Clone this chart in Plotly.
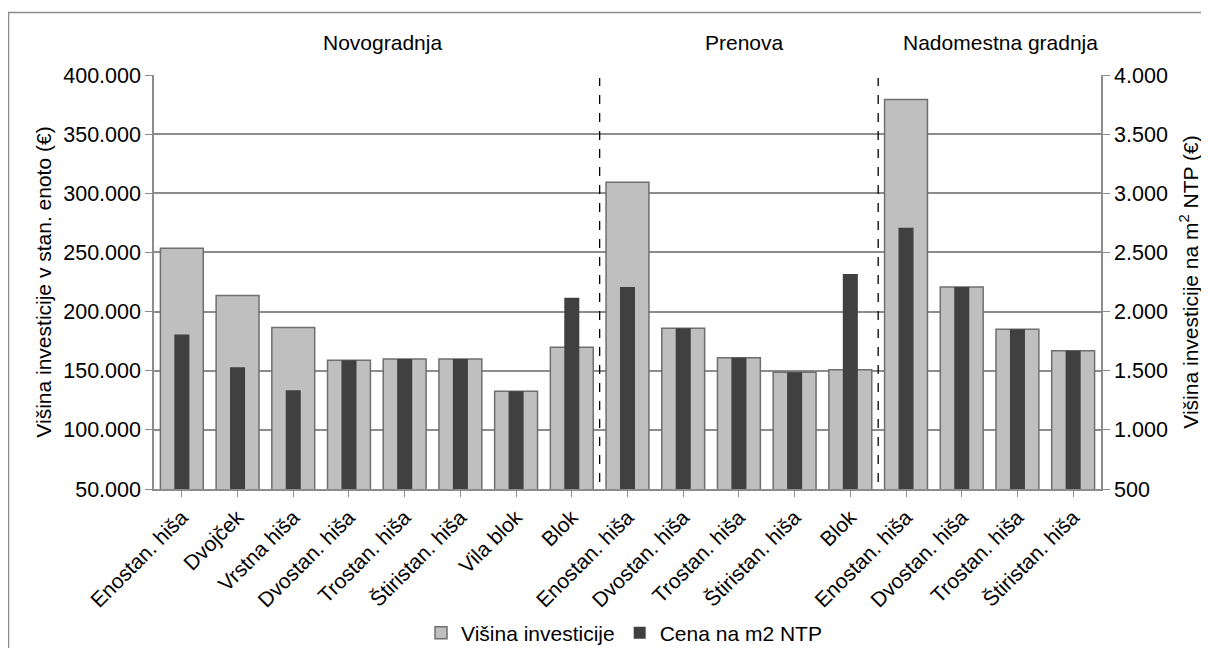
import plotly.graph_objects as go

categories = ["Enostan. hiša", "Dvojček", "Vrstna hiša", "Dvostan. hiša", "Trostan. hiša",
              "Štiristan. hiša", "Vila blok", "Blok",
              "Enostan. hiša", "Dvostan. hiša", "Trostan. hiša", "Štiristan. hiša", "Blok",
              "Enostan. hiša", "Dvostan. hiša", "Trostan. hiša", "Štiristan. hiša"]
investicija = [253600, 213500, 186500, 158800, 160000, 160000, 132600, 169800,
               309300, 185900, 161000, 148600, 150800,
               379300, 220800, 185000, 166900]
cena_m2 = [1807, 1529, 1334, 1588, 1600, 1600, 1326, 2116,
           2208, 1859, 1610, 1486, 2318,
           2709, 2208, 1850, 1669]
groups = ["Novogradnja", "Prenova", "Nadomestna gradnja"]
group_label_pos = [3.6, 10.1, 14.7]
separators_at = [7.5, 12.5]

# page body has an 8px margin; targets below are in screenshot pixels
OFF = 8
W, H = 1209, 648
PL, PR, PT, PB = 154, 1101, 75, 489          # plot box in screenshot pixels
L = PL - OFF
R = W - (PR - OFF)
T = PT - OFF
B = H - (PB - OFF)
pw, ph = PR - PL, PB - PT

def px_x(p):
    return (p - PL) / pw

def px_y(p):
    return (PB - p) / ph

FONT = "Liberation Sans, Arial, sans-serif"
FS = 21
TFS = 21.5
xs = list(range(len(categories)))

fig = go.Figure()
fig.add_trace(go.Bar(
    x=xs, y=investicija, name="Višina investicije", yaxis="y",
    width=0.77, marker=dict(color="#bfbfbf", line=dict(color="#6f6f6f", width=1.5)),
))
fig.add_trace(go.Bar(
    x=xs, y=cena_m2, name="Cena na m2 NTP", yaxis="y2",
    width=0.27, marker=dict(color="#404040", line=dict(color="#404040", width=0)),
))

shapes = [dict(type="rect", xref="paper", yref="paper",
               x0=px_x(8.5), x1=px_x(1240), y0=px_y(700), y1=px_y(12.5),
               line=dict(color="#8c8c8c", width=1.5), layer="below")]
for s in separators_at:
    shapes.append(dict(type="line", xref="x", yref="paper", x0=s, x1=s,
                       y0=px_y(482), y1=px_y(78),
                       line=dict(color="#000000", width=1.3, dash="dash")))

annotations = [dict(text=g, x=xp, xref="x", y=px_y(42), yref="paper",
                    xanchor="center", yanchor="middle",
                    showarrow=False, font=dict(size=FS, color="#000"))
               for g, xp in zip(groups, group_label_pos)]

fig.update_layout(
    width=W, height=H,
    margin=dict(l=L, r=R, t=T, b=B, autoexpand=False),
    paper_bgcolor="white", plot_bgcolor="white",
    font=dict(family=FONT, size=FS, color="#000"),
    separators=",.",
    barmode="overlay",
    showlegend=True,
    legend=dict(orientation="h", x=px_x(624), y=px_y(633), xanchor="center", yanchor="middle",
                font=dict(size=FS), itemwidth=30, traceorder="normal", tracegroupgap=0),
    xaxis=dict(tickmode="array", tickvals=xs, ticktext=categories, tickangle=-45,
               range=[-0.5, len(categories) - 0.5], showline=True, linecolor="#8c8c8c", linewidth=1.5,
               ticks="outside", tickson="boundaries", ticklen=6, tickcolor="#8c8c8c",
               showgrid=False, tickfont=dict(size=FS), automargin=False),
    yaxis=dict(range=[50000, 400000], dtick=50000, tickformat=",d", showgrid=True,
               gridcolor="#8c8c8c", gridwidth=1.5, showline=True, linecolor="#8c8c8c", linewidth=1.5,
               ticks="outside", ticklen=7, tickcolor="#8c8c8c", zeroline=False, automargin=False,
               title=dict(text="Višina investicije v stan. enoto (€)", font=dict(size=FS), standoff=6),
               tickfont=dict(size=TFS)),
    yaxis2=dict(range=[500, 4000], dtick=500, tickformat=",d", overlaying="y", side="right",
                showgrid=False, showline=True, linecolor="#8c8c8c", linewidth=1.5,
                ticks="outside", ticklen=7, tickcolor="#8c8c8c", zeroline=False, automargin=False,
                title=dict(text="Višina investicije na m<sup>2</sup> NTP (€)", font=dict(size=FS), standoff=16),
                tickfont=dict(size=TFS)),
    shapes=shapes,
    annotations=annotations,
)

fig.write_html("out.html")
